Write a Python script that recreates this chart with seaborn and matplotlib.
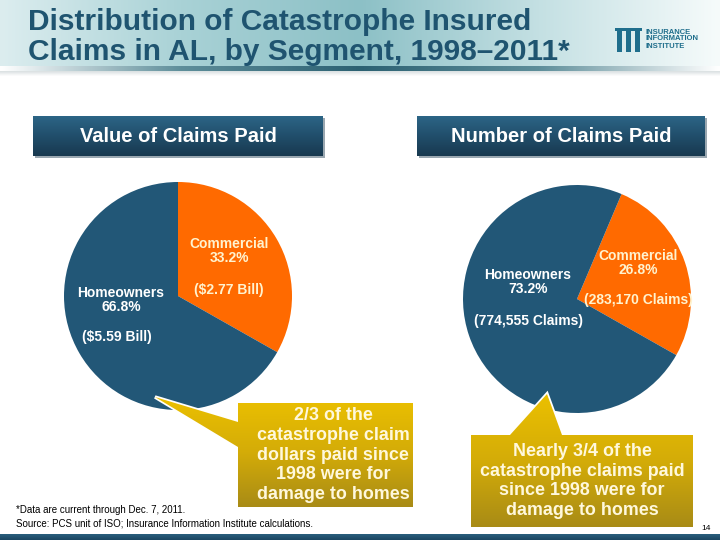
import numpy as np
import matplotlib
matplotlib.use("Agg")
import matplotlib.pyplot as plt
import seaborn as sns
from matplotlib.colors import LinearSegmentedColormap
from matplotlib.patches import Polygon, Rectangle

# data
segments = ["Commercial", "Homeowners"]
value_pct = [33.2, 66.8]
value_bill = [2.77, 5.59]
count_pct = [26.8, 73.2]
count_claims = [283170, 774555]

BLUE = "#225777"
ORANGE = "#FF6A00"
TITLE_C = "#1F5470"

sns.set_theme(style="white")
plt.rcParams['font.family'] = ['Liberation Sans', 'DejaVu Sans']

fig = plt.figure(figsize=(7.2, 5.4), dpi=100)
W, H = 720, 540


def grad_fill(ax, x0, y0, x1, y1, colors, horizontal=False, clip=None, z=1):
    cmap = LinearSegmentedColormap.from_list("g", colors)
    g = np.linspace(0, 1, 256)
    arr = g[None, :] if horizontal else g[:, None]
    im = ax.imshow(arr, extent=[x0, x1, y1, y0], aspect='auto', cmap=cmap,
                   interpolation='bicubic', zorder=z)
    if clip is not None:
        im.set_clip_path(clip)
    return im


# pies, placed in pixel coords
def pie_axes(cx, cy, r):
    return fig.add_axes([(cx - r) / W, (H - cy - r) / H, 2 * r / W, 2 * r / H])


ax_l = pie_axes(178, 296, 114)
ax_l.pie(value_pct, colors=[ORANGE, BLUE], startangle=90, counterclock=False,
         wedgeprops=dict(linewidth=0))
ax_l.set_xlim(-1, 1)
ax_l.set_ylim(-1, 1)

ax_r = pie_axes(577, 299, 114)
ax_r.pie(count_pct, colors=[ORANGE, BLUE], startangle=67, counterclock=False,
         wedgeprops=dict(linewidth=0))
ax_r.set_xlim(-1, 1)
ax_r.set_ylim(-1, 1)

# overlay in pixel coords
ov = fig.add_axes([0, 0, 1, 1], zorder=5)
ov.set_xlim(0, W)
ov.set_ylim(H, 0)
ov.axis('off')
ov.patch.set_alpha(0)

# title band
grad_fill(ov, 0, 0, W, 68, ["#DCEDEF", "#A9D2D6", "#8CC0C6", "#C4E0E3", "#F6FBFB"],
          horizontal=True, z=0)
grad_fill(ov, 0, 66, W, 71, ["#FFFFFF", "#5E8E9A", "#2C6172", "#5E8E9A", "#FFFFFF"],
          horizontal=True, z=0)
grad_fill(ov, 0, 71, W, 76, ["#D8DEE0", "#FFFFFF"], z=0)
ov.text(28, 22, "Distribution of Catastrophe Insured", fontsize=21.5, fontweight='bold',
        color=TITLE_C, va='center', ha='left')
ov.text(28, 52, "Claims in AL, by Segment, 1998\u20132011*", fontsize=21.5, fontweight='bold',
        color=TITLE_C, va='center', ha='left')

# logo
for i, lx in enumerate([615, 624, 633]):
    ov.add_patch(Rectangle((lx + 2, 30), 5, 22, color="#1F6E8C", zorder=3, lw=0))
    ov.add_patch(Rectangle((lx, 28), 9, 3, color="#1F6E8C", zorder=3, lw=0))
ov.text(645, 39, "INSURANCE\nINFORMATION\nINSTITUTE", fontsize=5.5, fontweight='bold',
        color="#1F6E8C", va='center', ha='left', linespacing=1.0)

# header boxes
for (x0, x1, label) in [(33, 323, "Value of Claims Paid"), (417, 705, "Number of Claims Paid")]:
    ov.add_patch(Rectangle((x0 + 2, 118), x1 - x0, 40, color="#9AA7B0", zorder=1, lw=0))
    grad_fill(ov, x0, 116, x1, 156, ["#2C6586", "#214E6B", "#18394F"], z=2)
    ov.text((x0 + x1) / 2, 136, label, fontsize=14.5, fontweight='bold',
            color="white", ha='center', va='center', zorder=3)

# pie labels
CREAM = "#FFF3CF"
lab = dict(fontsize=10, fontweight='bold', ha='center', va='center')
ov.text(229, 251, f"{segments[0]}\n{value_pct[0]:.1f}%", color=CREAM, linespacing=1.05, **lab)
ov.text(229, 290, f"(${value_bill[0]:.2f} Bill)", color=CREAM, **lab)
ov.text(121, 300, f"{segments[1]}\n{value_pct[1]:.1f}%", color="white", linespacing=1.05, **lab)
ov.text(117, 337, f"(${value_bill[1]:.2f} Bill)", color="white", **lab)

ov.text(638, 263, f"{segments[0]}\n{count_pct[0]:.1f}%", color=CREAM, linespacing=1.05, **lab)
ov.text(638, 300, f"({count_claims[0]:,} Claims)", color=CREAM, **lab)
ov.text(528, 282, f"{segments[1]}\n{count_pct[1]:.1f}%", color="white", linespacing=1.05, **lab)
ov.text(528, 321, f"({count_claims[1]:,} Claims)", color="white", **lab)

# callouts
GOLD = ["#EBC000", "#D4AC08", "#A88B16"]
left_pts = [(155, 397), (238, 422), (238, 403), (413, 403), (413, 507),
            (238, 507), (238, 447)]
right_pts = [(547, 394), (562, 435), (693, 435), (693, 527), (471, 527),
             (471, 435), (510, 435)]
for pts, (x0, y0, x1, y1) in [(left_pts, (155, 397, 413, 507)),
                              (right_pts, (471, 394, 693, 527))]:
    outline = Polygon(pts, closed=True, fc="none", ec="white", lw=2.5, zorder=3)
    ov.add_patch(outline)
    clip = Polygon(pts, closed=True, transform=ov.transData)
    grad_fill(ov, x0, y0, x1, y1, GOLD, clip=clip, z=4)

CALL_C = "#FFF8DC"
call = dict(fontsize=12.9, fontweight='bold', color=CALL_C,
            ha='center', va='center', linespacing=1.2, zorder=6)
ov.text(333, 455, "2/3 of the\ncatastrophe claim\ndollars paid since\n1998 were for\ndamage to homes", **call)
ov.text(582, 481, "Nearly 3/4 of the\ncatastrophe claims paid\nsince 1998 were for\ndamage to homes", **call)

# footnotes
ov.text(16, 510, "*Data are current through Dec. 7, 2011.", fontsize=7, color="black",
        ha='left', va='center')
ov.text(16, 524, "Source: PCS unit of ISO; Insurance Information Institute calculations.",
        fontsize=7, color="black", ha='left', va='center')
ov.text(706, 529, "14", fontsize=6, color="black", ha='center', va='center')

# bottom bar
grad_fill(ov, 0, 534, W, 540, ["#2A5F7E", "#1B4560"], z=2)

fig.savefig("out.png", dpi=100)
